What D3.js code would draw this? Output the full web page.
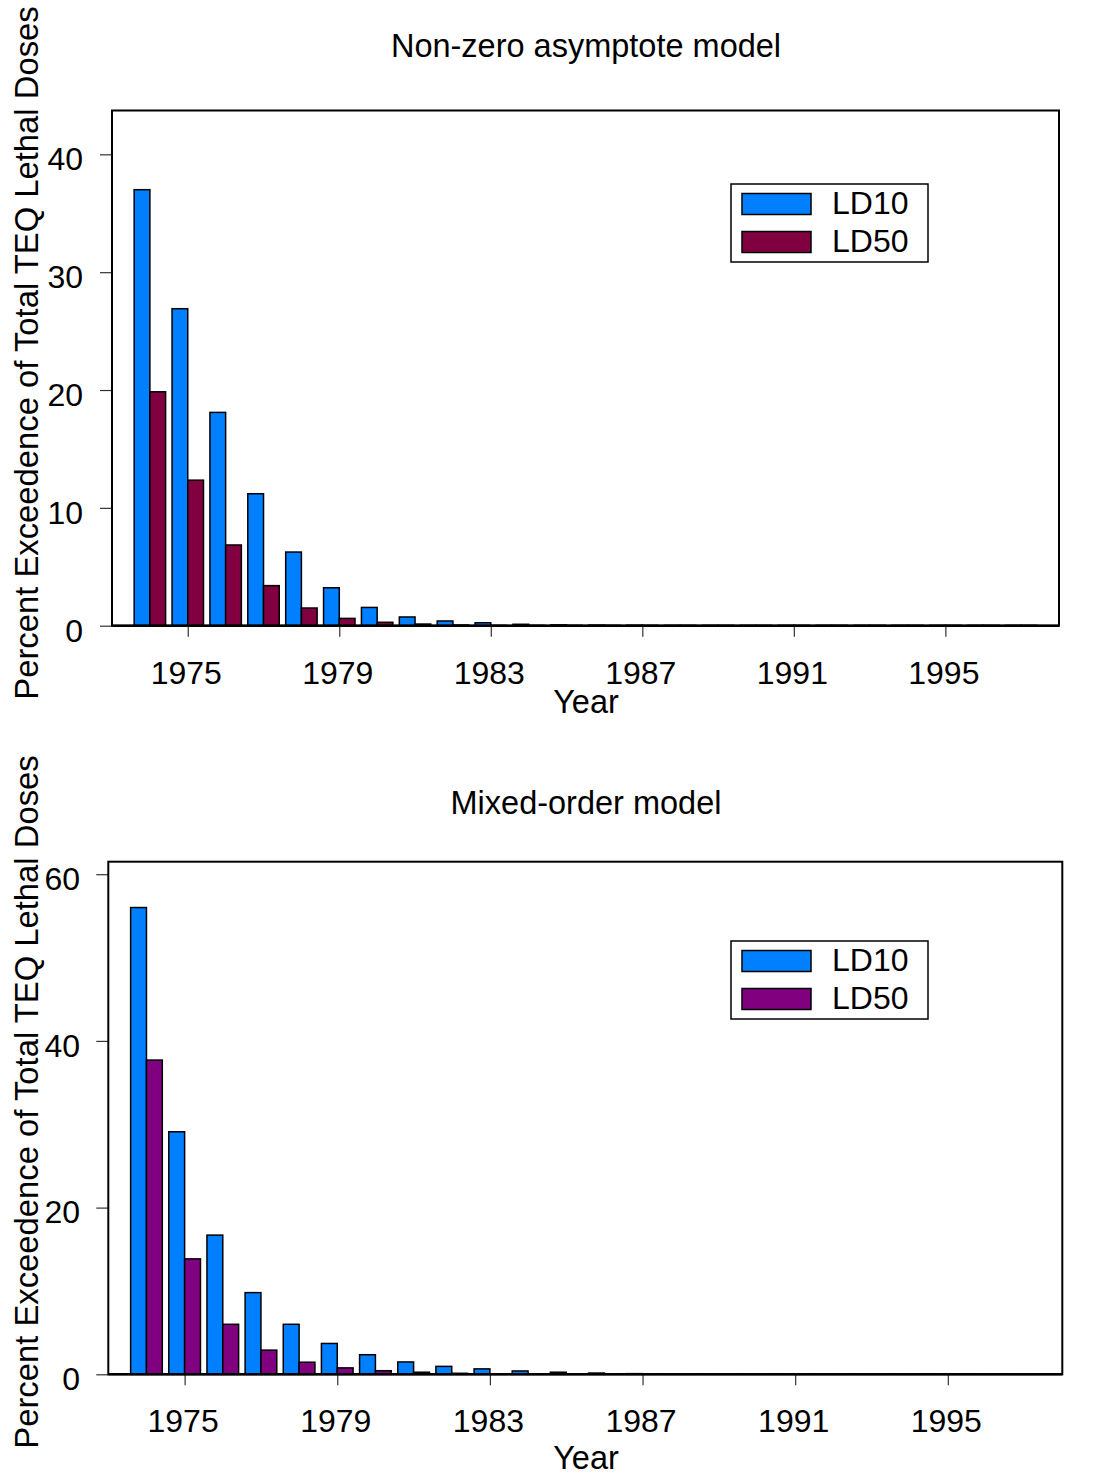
<!DOCTYPE html>
<html>
<head>
<meta charset="utf-8">
<script src="https://cdn.jsdelivr.net/npm/d3@7/dist/d3.min.js"></script>
<style>
  html, body { margin: 0; padding: 0; background: #fff; }
  svg { display: block; }
  text { font-family: "Liberation Sans", Arial, sans-serif; fill: #000; }
</style>
</head>
<body>
<svg id="chart" width="1102" height="1475"></svg>
<script>
// Years shown on the category axis
const years = [1974, 1975, 1976, 1977, 1978, 1979, 1980, 1981, 1982, 1983, 1984, 1985,
               1986, 1987, 1988, 1989, 1990, 1991, 1992, 1993, 1994, 1995, 1996, 1997];
const yearTicks = [1975, 1979, 1983, 1987, 1991, 1995];
const seriesNames = ["LD10", "LD50"];

// Non-zero asymptote model (percent exceedence)
const asymLD10 = [37.0, 26.9, 18.1, 11.2, 6.25, 3.22, 1.55, 0.74, 0.40, 0.25, 0.12, 0.07,
                  0.05, 0.04, 0.03, 0.03, 0.03, 0.03, 0.03, 0.03, 0.03, 0.03, 0.03, 0.03];
const asymLD50 = [19.85, 12.35, 6.85, 3.4, 1.5, 0.62, 0.29, 0.14, 0.06, 0.03, 0.03, 0.03,
                  0.03, 0.03, 0.03, 0.03, 0.03, 0.03, 0.03, 0.03, 0.03, 0.03, 0.03, 0.03];
const asymTicks = [0, 10, 20, 30, 40];

// Mixed-order model (percent exceedence)
const mixedLD10 = [56.0, 29.1, 16.7, 9.8, 6.0, 3.7, 2.35, 1.48, 0.95, 0.65, 0.4, 0.25,
                   0.15, 0.08, 0.05, 0.03, 0.02, 0.02, 0.02, 0.02, 0.02, 0.02, 0.02, 0.02];
const mixedLD50 = [37.7, 13.85, 6.0, 2.9, 1.45, 0.77, 0.43, 0.25, 0.12, 0.06, 0.03, 0.02,
                   0.02, 0.02, 0.02, 0.02, 0.02, 0.02, 0.02, 0.02, 0.02, 0.02, 0.02, 0.02];
const mixedTicks = [0, 20, 40, 60];

const yLabel = "Percent Exceedence of Total TEQ Lethal Doses";
const xLabel = "Year";

// Panel layouts
const panels = [
  {
    title: "Non-zero asymptote model", ld10: asymLD10, ld50: asymLD50, ticks: asymTicks,
    yMax: 43.72, color10: "#0080ff", color50: "#800040",
    left: 112, right: 1059, top: 110.5, bottom: 625.7,
    titleY: 57, xLabelY: 713, tickLabelRight: 83, yLabelCenter: 353, legendTop: 184
  },
  {
    title: "Mixed-order model", ld10: mixedLD10, ld50: mixedLD50, ticks: mixedTicks,
    yMax: 61.5, color10: "#0080ff", color50: "#800080",
    left: 108.3, right: 1062.3, top: 861.7, bottom: 1374.3,
    titleY: 814, xLabelY: 1469, tickLabelRight: 80, yLabelCenter: 1102, legendTop: 941
  }
];

const svg = d3.select("#chart");
const FONT = 32.5;

panels.forEach(p => {
  const g = svg.append("g");
  const x = d3.scaleLinear().domain([1973, 1998]).range([p.left, p.right]);
  const y = d3.scaleLinear().domain([0, p.yMax]).range([p.bottom, p.top]);
  const bw = x(1973.415) - x(1973);

  // Title
  g.append("text")
    .attr("x", 586).attr("y", p.titleY)
    .attr("text-anchor", "middle")
    .style("font-size", FONT + "px")
    .text(p.title);

  // Y axis ticks and labels
  const yAxis = d3.axisLeft(y).tickValues(p.ticks).tickSize(12).tickPadding(0)
    .tickFormat(d3.format("d"));
  const ya = g.append("g").attr("transform", `translate(${p.left},0)`).call(yAxis);
  ya.select(".domain").remove();
  ya.selectAll(".tick line").attr("stroke", "#333").attr("stroke-width", 1.2);
  ya.selectAll(".tick text")
    .attr("x", p.tickLabelRight - p.left)
    .attr("dy", "0.48em")
    .style("font-size", "32px")
    .style("font-family", "'Liberation Sans', Arial, sans-serif")
    .attr("fill", "#000");

  // X axis ticks and labels
  const xAxis = d3.axisBottom(x).tickValues(yearTicks).tickSize(11).tickPadding(0)
    .tickFormat(d3.format("d"));
  const xa = g.append("g").attr("transform", `translate(0,${p.bottom})`).call(xAxis);
  xa.select(".domain").remove();
  xa.selectAll(".tick line").attr("stroke", "#333").attr("stroke-width", 1.2);
  xa.selectAll(".tick text")
    .attr("x", -2)
    .attr("y", 58).attr("dy", 0)
    .style("font-size", "32px")
    .style("font-family", "'Liberation Sans', Arial, sans-serif")
    .attr("fill", "#000");

  // Axis titles
  g.append("text")
    .attr("x", 586).attr("y", p.xLabelY)
    .attr("text-anchor", "middle")
    .style("font-size", FONT + "px")
    .text(xLabel);
  g.append("text")
    .attr("transform", `translate(38,${p.yLabelCenter}) rotate(-90)`)
    .attr("text-anchor", "middle")
    .style("font-size", "32.8px")
    .text(yLabel);

  // Bars
  const rows = years.map((yr, i) => ({ year: yr, v10: p.ld10[i], v50: p.ld50[i] }));
  g.append("g").selectAll("rect").data(rows).join("rect")
    .attr("x", d => x(d.year) - bw).attr("width", bw)
    .attr("y", d => y(d.v10)).attr("height", d => y(0) - y(d.v10))
    .attr("fill", p.color10).attr("stroke", "#000").attr("stroke-width", 1.5);
  g.append("g").selectAll("rect").data(rows).join("rect")
    .attr("x", d => x(d.year)).attr("width", bw)
    .attr("y", d => y(d.v50)).attr("height", d => y(0) - y(d.v50))
    .attr("fill", p.color50).attr("stroke", "#000").attr("stroke-width", 1.5);

  // Frame and baseline
  g.append("rect")
    .attr("x", p.left).attr("y", p.top)
    .attr("width", p.right - p.left).attr("height", p.bottom - p.top)
    .attr("fill", "none").attr("stroke", "#000").attr("stroke-width", 2);
  g.append("line")
    .attr("x1", p.left).attr("x2", p.right).attr("y1", y(0)).attr("y2", y(0))
    .attr("stroke", "#000").attr("stroke-width", 2.5);

  // Legend
  const lg = g.append("g").attr("transform", `translate(731,${p.legendTop})`);
  lg.append("rect").attr("x", 0).attr("y", 0).attr("width", 197).attr("height", 78)
    .attr("fill", "#fff").attr("stroke", "#000").attr("stroke-width", 1.5);
  const colors = [p.color10, p.color50];
  seriesNames.forEach((name, i) => {
    lg.append("rect").attr("x", 11).attr("y", 9.5 + i * 38).attr("width", 69).attr("height", 21)
      .attr("fill", colors[i]).attr("stroke", "#000").attr("stroke-width", 1.5);
    lg.append("text").attr("x", 101).attr("y", 30 + i * 38)
      .style("font-size", "32px")
      .text(name);
  });
});
</script>
</body>
</html>
